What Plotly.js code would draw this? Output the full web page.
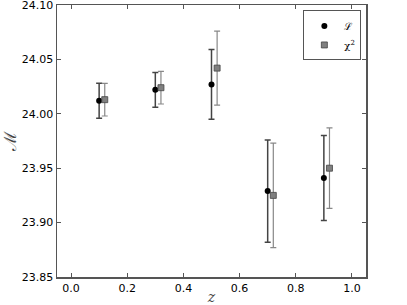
<!DOCTYPE html>
<html><head><meta charset="utf-8">
<script src="https://cdn.plot.ly/plotly-3.0.1.min.js"></script>
<style>html,body{margin:0;padding:0;background:#fff}#plot{width:407px;height:305px}</style>
</head><body><div id="plot"></div>
<script>
const zL = [0.1, 0.3, 0.5, 0.7, 0.9];
const mL = [24.012, 24.022, 24.027, 23.929, 23.941];
const eL = [0.016, 0.016, 0.032, 0.047, 0.039];
const zC = [0.12, 0.32, 0.52, 0.72, 0.92];
const mC = [24.013, 24.024, 24.042, 23.925, 23.950];
const eC = [0.015, 0.015, 0.034, 0.048, 0.037];
const xTicks = [0.0, 0.2, 0.4, 0.6, 0.8, 1.0];
const yTicks = [23.85, 23.90, 23.95, 24.00, 24.05, 24.10];

const traces = [
  {x: zL, y: mL, type: 'scatter', mode: 'markers', name: 'ℒ',
   marker: {color: '#000', size: 6, symbol: 'circle'},
   error_y: {type: 'data', array: eL, visible: true, color: '#444', thickness: 1.5, width: 3}},
  {x: zC, y: mC, type: 'scatter', mode: 'markers', name: 'χ<sup>2</sup>',
   marker: {color: '#808080', size: 6, symbol: 'square', line: {color: '#444', width: 0.8}},
   error_y: {type: 'data', array: eC, visible: true, color: '#888', thickness: 1.2, width: 3}}
];
const axBase = {showgrid: false, zeroline: false, showline: true, linecolor: '#555', linewidth: 1.5,
  mirror: 'ticks', ticks: 'inside', ticklen: 4, tickcolor: '#555', ticklabeloverflow: 'allow',
  tickfont: {family: 'DejaVu Sans', size: 11, color: '#000'}};
const layout = {
  width: 407, height: 305,
  margin: {l: 57, r: 41, t: 5, b: 28},
  paper_bgcolor: '#fff', plot_bgcolor: '#fff',
  showlegend: true,
  legend: {x: 0.985, y: 0.98, xanchor: 'right', yanchor: 'top', bgcolor: '#fff',
    bordercolor: '#555', borderwidth: 1, font: {family: 'DejaVu Serif', size: 10, color: '#000'},
    itemwidth: 30, tracegroupgap: 0},
  xaxis: Object.assign({}, axBase, {range: [-0.05, 1.05], tickvals: xTicks, tickformat: '.1f',
    title: {text: '<i>z</i>', font: {family: 'DejaVu Serif', size: 14}, standoff: 0}}),
  yaxis: Object.assign({}, axBase, {range: [23.85, 24.10], tickvals: yTicks, tickformat: '.2f',
    automargin: 'left',
    title: {text: 'ℳ', font: {family: 'DejaVu Serif', size: 17}, standoff: 6}})
};
Plotly.newPlot('plot', traces, layout, {displayModeBar: false, staticPlot: true});
</script></body></html>
